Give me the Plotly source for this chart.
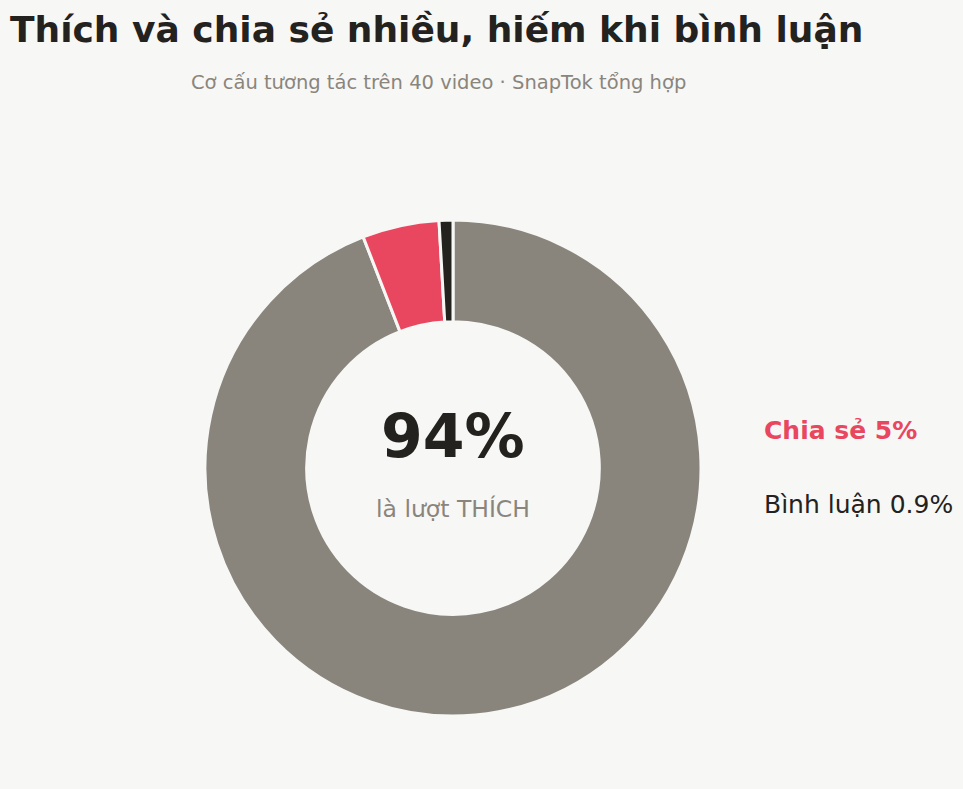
import plotly.graph_objects as go

# engagement breakdown
labels = ["Thích", "Chia sẻ", "Bình luận"]
values = [94.1, 5.0, 0.9]
colors = ["#8a857c", "#e8475f", "#23221e"]

bg = "#f7f7f5"
W, H = 963, 789
cx, cy, r = 453, 468, 248

fig = go.Figure()
fig.add_trace(go.Pie(
    labels=labels,
    values=values,
    hole=0.59,
    sort=False,
    direction="clockwise",
    rotation=0,
    textinfo="none",
    hoverinfo="label+percent",
    marker=dict(colors=colors, line=dict(color=bg, width=3)),
    domain=dict(x=[(cx - r) / W, (cx + r) / W], y=[(H - cy - r) / H, (H - cy + r) / H]),
    showlegend=False,
))

def px(x):
    return x / W

def py(y):
    return 1 - y / H

fig.add_annotation(x=px(8), y=py(30), text="<b>Thích và chia sẻ nhiều, hiếm khi bình luận</b>",
                   showarrow=False, xanchor="left", yanchor="middle",
                   font=dict(size=36, color="#23221e"))
fig.add_annotation(x=px(438), y=py(83), text="Cơ cấu tương tác trên 40 video · SnapTok tổng hợp",
                   showarrow=False, xanchor="center", yanchor="middle",
                   font=dict(size=19.5, color="#8a857c"))

# centre label
fig.add_annotation(x=px(cx), y=py(436), text="<b>%d%%</b>" % round(values[0]),
                   showarrow=False, xanchor="center", yanchor="middle",
                   font=dict(size=60, color="#23221e"))
fig.add_annotation(x=px(cx), y=py(509), text="là lượt THÍCH",
                   showarrow=False, xanchor="center", yanchor="middle",
                   font=dict(size=23.5, color="#8a857c"))

# side labels
fig.add_annotation(x=px(762), y=py(430), text="<b>%s %g%%</b>" % (labels[1], values[1]),
                   showarrow=False, xanchor="left", yanchor="middle",
                   font=dict(size=25, color=colors[1]))
fig.add_annotation(x=px(762), y=py(505), text="%s %g%%" % (labels[2], values[2]),
                   showarrow=False, xanchor="left", yanchor="middle",
                   font=dict(size=25, color=colors[2]))

fig.update_layout(
    width=W, height=H,
    margin=dict(l=0, r=0, t=0, b=0),
    paper_bgcolor=bg, plot_bgcolor=bg,
    font=dict(family="DejaVu Sans"),
)
fig.write_html("out.html", config={"displayModeBar": False},
               post_script="document.body.style.margin='0';document.body.style.background='%s';" % bg)
